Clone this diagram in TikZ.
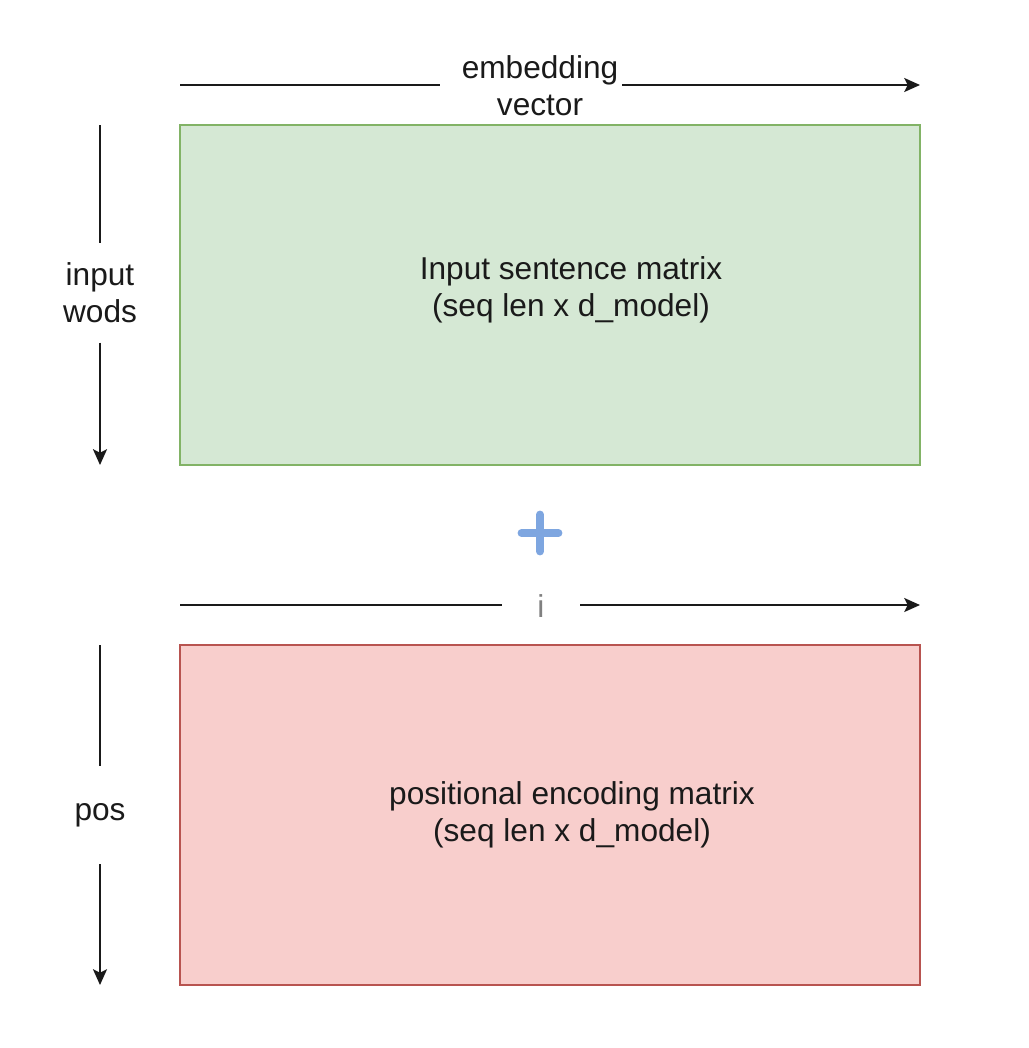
\documentclass[tikz,border=0pt]{standalone}
\usepackage{fontspec}
\setmainfont{Liberation Sans}
\usepackage{xcolor}
\usetikzlibrary{positioning, arrows.meta}

\definecolor{embfill}{HTML}{D5E8D4}
\definecolor{embline}{HTML}{82B366}
\definecolor{posfill}{HTML}{F8CECC}
\definecolor{posline}{HTML}{B85450}
\definecolor{plusblue}{HTML}{7EA6E0}
\definecolor{inkgray}{HTML}{1A1A1A}

\tikzset{
    matbox/.style={draw, line width=1.4pt, minimum width=14.8cm, minimum height=6.8cm, inner sep=0pt},
    dimlabel/.style={font=\fontsize{18}{21}\selectfont, text=inkgray, align=center, inner sep=0pt},
    dimline/.style={line width=1.1pt, inkgray},
    dimarrow/.style={line width=1.1pt, inkgray, -{Stealth[length=9pt, width=8pt, inset=2pt]}}
}

\begin{document}
\begin{tikzpicture}[x=0.02cm, y=-0.02cm]
    \useasboundingbox (0,0) rectangle (1028,1048);

    % Top axis: embedding vector
    \coordinate (embL) at (180,85);
    \coordinate (embR) at (920,85);
    \node[dimlabel] (emb) at (540,86) {embedding\\vector};
    \draw[dimline] (embL) -- ([xshift=-12pt]emb.west |- embL);
    \draw[dimarrow] ([xshift=2pt]emb.east |- embR) -- (embR);

    % Left axis: input words
    \coordinate (wordsT) at (100,125);
    \coordinate (wordsB) at (100,465);
    \node[dimlabel, inner ysep=11pt] (words) at (100,293) {input\\wods};
    \draw[dimline] (wordsT) -- (words.north);
    \draw[dimarrow] (words.south) -- (wordsB);

    % Input sentence matrix
    \node[matbox, fill=embfill, draw=embline] (inmat) at (550,295) {};
    \node[dimlabel] (intext) at (571,290) {Input sentence matrix\\(seq len x d\_model)};

    % Plus sign
    \coordinate (plus) at (540,533);
    \draw[plusblue, line width=4.5pt, line cap=round] ([xshift=-10.5pt]plus) -- ([xshift=10.5pt]plus);
    \draw[plusblue, line width=4.5pt, line cap=round] ([yshift=10.5pt]plus) -- ([yshift=-10.5pt]plus);

    % Middle axis: i
    \coordinate (iL) at (180,605);
    \coordinate (iR) at (920,605);
    \node[dimlabel, text=gray, inner xsep=20pt] (idim) at (541,606) {i};
    \draw[dimline] (iL) -- (idim.west |- iL);
    \draw[dimarrow] (idim.east |- iR) -- (iR);

    % Left axis: pos
    \coordinate (posT) at (100,645);
    \coordinate (posB) at (100,985);
    \node[dimlabel, inner ysep=21pt] (pos) at (100,815) {pos};
    \draw[dimline] (posT) -- (pos.north);
    \draw[dimarrow] (pos.south) -- (posB);

    % Positional encoding matrix
    \node[matbox, fill=posfill, draw=posline] (pemat) at (550,815) {};
    \node[dimlabel] (petext) at (572,815) {positional encoding matrix\\(seq len x d\_model)};

\end{tikzpicture}
\end{document}
